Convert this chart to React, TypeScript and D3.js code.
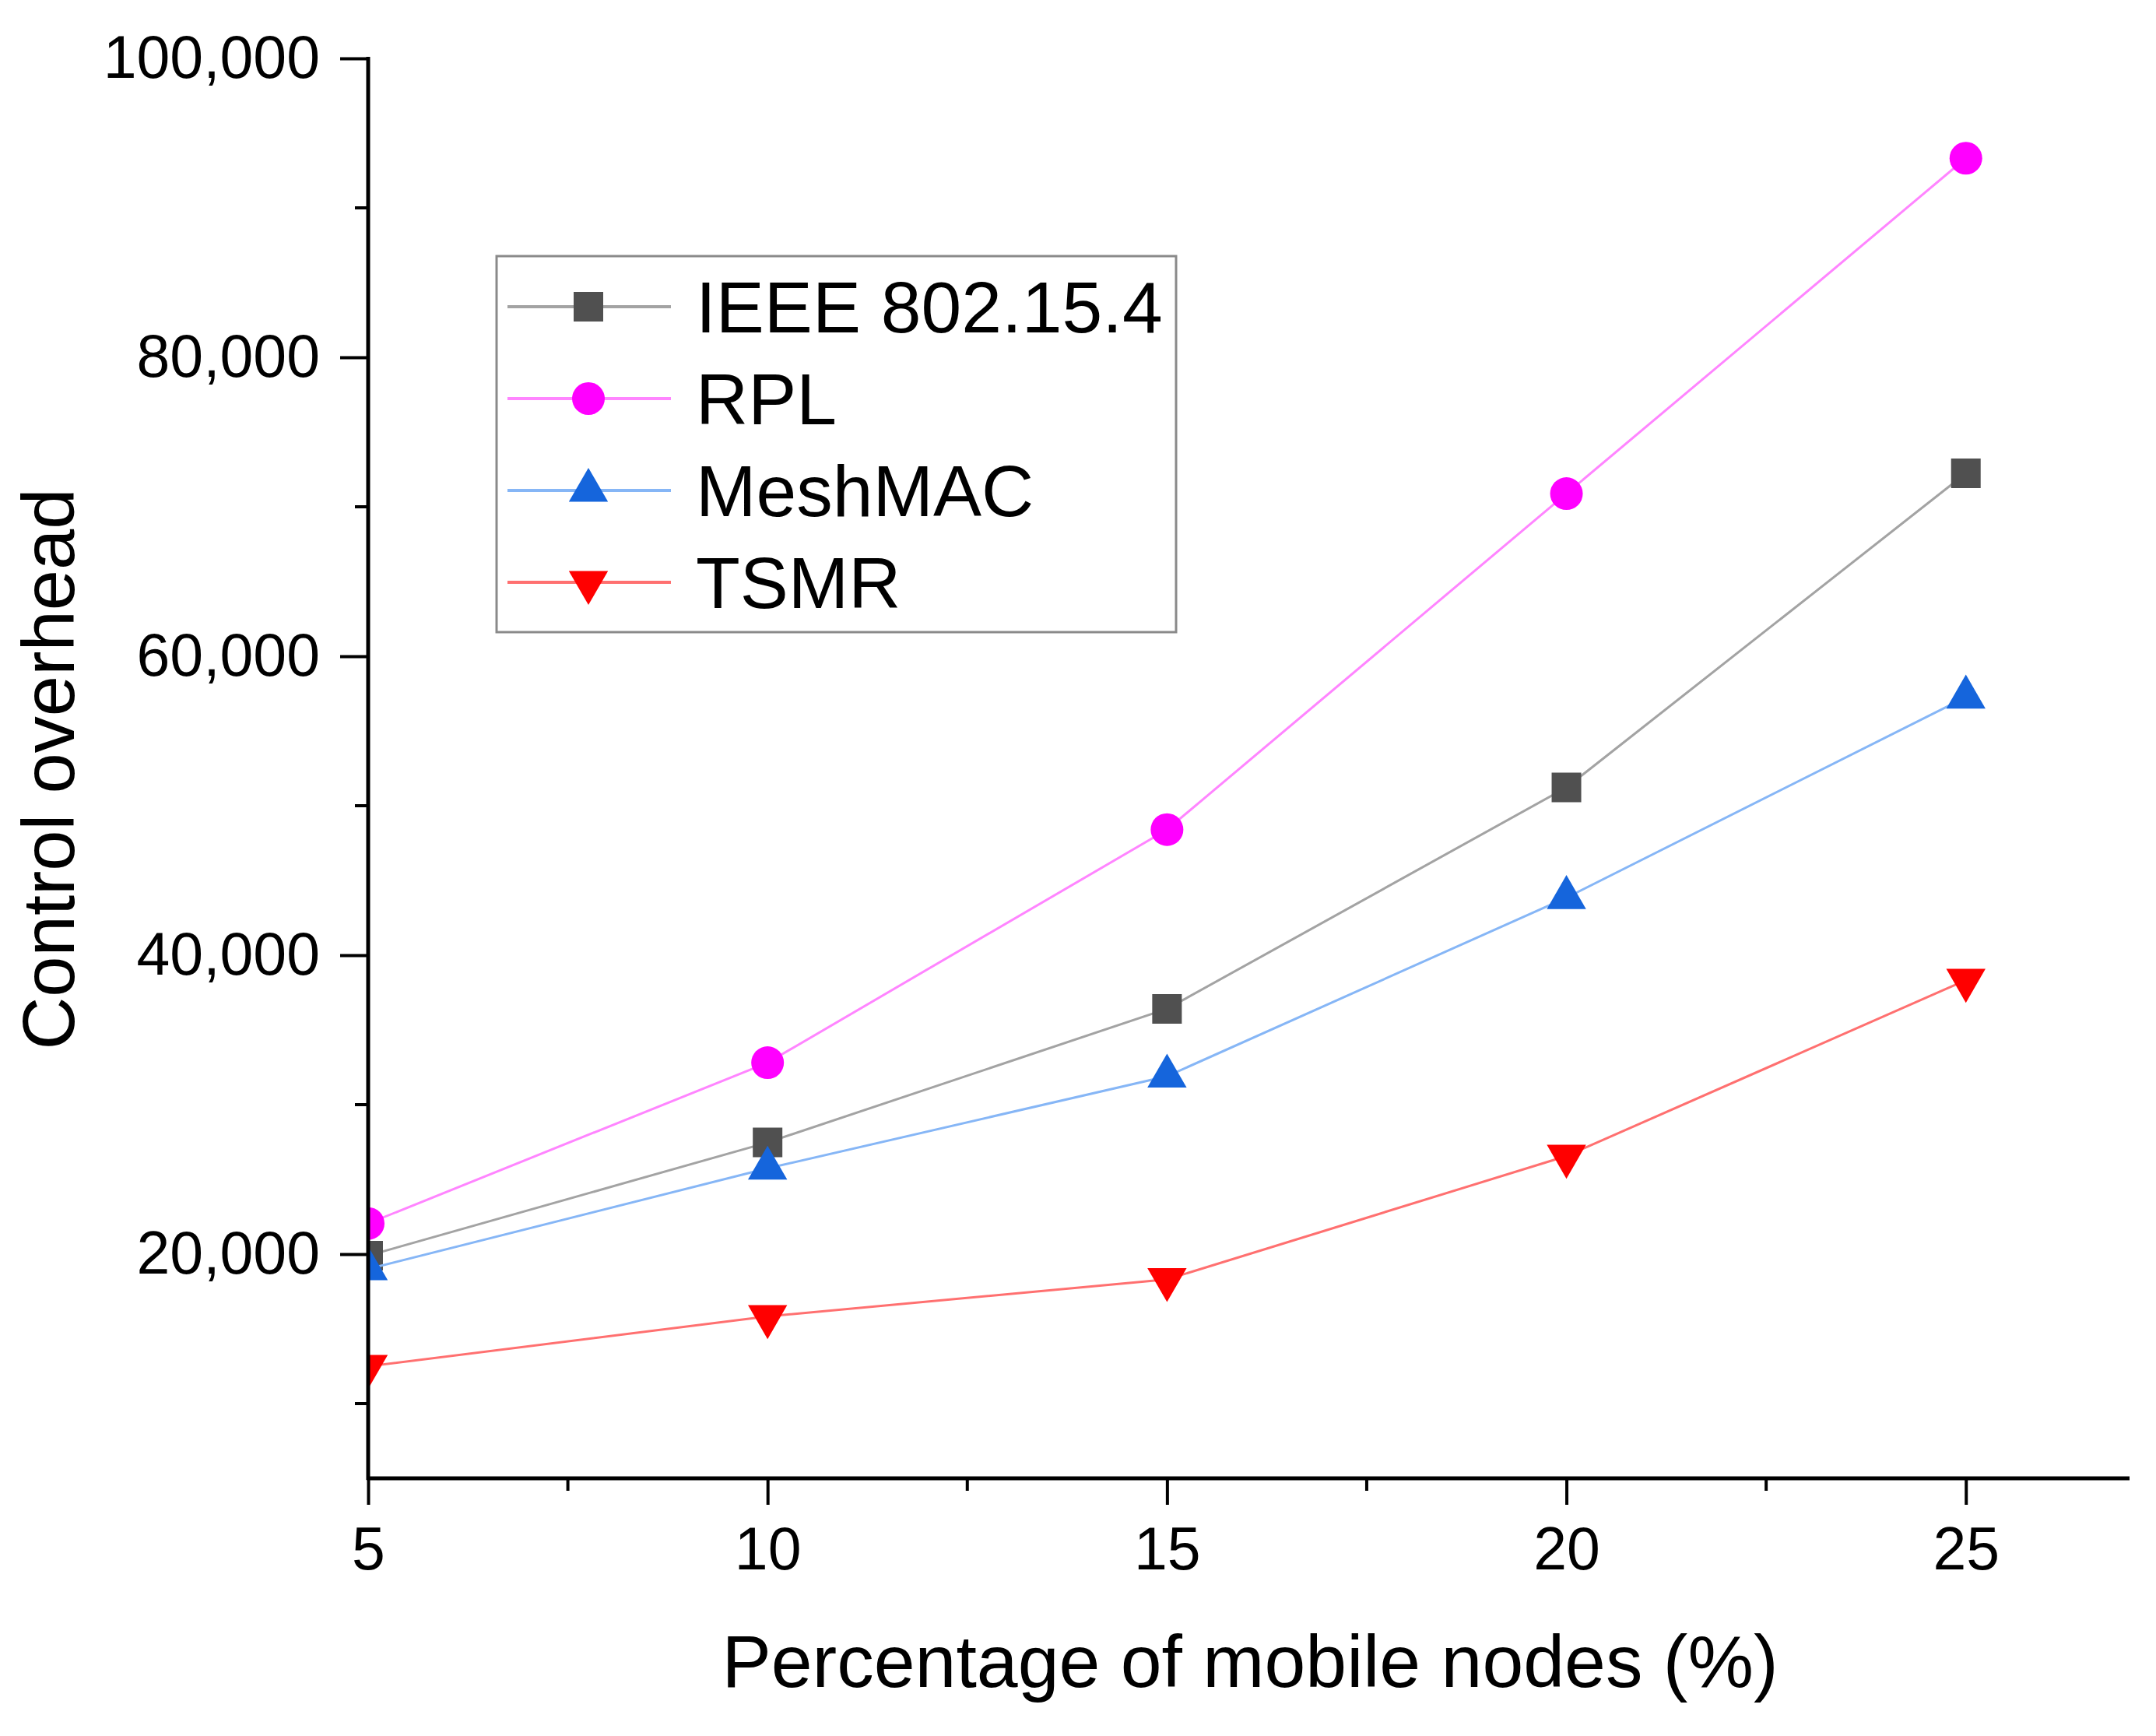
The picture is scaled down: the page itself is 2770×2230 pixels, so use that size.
import { useEffect, useRef } from 'react';
import * as d3 from 'd3';

const xValues = [5, 10, 15, 20, 25];
const ieeeValues = [19900, 27470, 36410, 51220, 72240];
const rplValues = [22050, 32810, 48400, 70880, 93320];
const meshMacValues = [19010, 25740, 31900, 43850, 57260];
const tsmrValues = [12500, 15830, 18310, 26560, 38330];

const seriesNames = ['IEEE 802.15.4', 'RPL', 'MeshMAC', 'TSMR'];
const xTicks = [5, 10, 15, 20, 25];
const xMinorTicks = [7.5, 12.5, 17.5, 22.5];
const yTicks = [20000, 40000, 60000, 80000, 100000];
const yMinorTicks = [10000, 30000, 50000, 70000, 90000];

const FONT = '"Liberation Sans", Arial, sans-serif';

type Style = { line: string; fill: string; symbol: d3.SymbolType; size: number; rotate: number };

const styles: Style[] = [
  { line: '#a3a3a3', fill: '#505050', symbol: d3.symbolSquare, size: 38 * 38, rotate: 0 },
  { line: '#ff85ff', fill: '#ff00ff', symbol: d3.symbolCircle, size: Math.PI * 21 * 21, rotate: 0 },
  { line: '#86b6f6', fill: '#1565dc', symbol: d3.symbolTriangle, size: 1100, rotate: 0 },
  { line: '#ff7070', fill: '#ff0000', symbol: d3.symbolTriangle, size: 1100, rotate: 180 },
];

export default function App() {
  const svgRef = useRef<SVGSVGElement>(null);
  const width = 2770;
  const height = 2230;

  useEffect(() => {
    document.body.style.margin = '0';
    if (!svgRef.current) return;
    const svg = d3.select(svgRef.current);
    svg.selectAll('*').remove();

    const x = d3.scaleLinear().domain([5, 27]).range([473, 2731]);
    const y = d3.scaleLinear().domain([5000, 100000]).range([1899, 75]);

    const allSeries = [ieeeValues, rplValues, meshMacValues, tsmrValues];

    svg.append('rect').attr('width', width).attr('height', height).attr('fill', '#fff');

    svg.append('defs').append('clipPath').attr('id', 'plot-clip')
      .append('rect')
      .attr('x', x(5))
      .attr('y', y(100000) - 40)
      .attr('width', x(27) - x(5))
      .attr('height', y(5000) - y(100000) + 40);

    const plot = svg.append('g').attr('clip-path', 'url(#plot-clip)');

    const line = d3.line<number>()
      .x((_, i) => x(xValues[i]))
      .y(d => y(d));

    allSeries.forEach((vals, si) => {
      const st = styles[si];
      plot.append('path')
        .datum(vals)
        .attr('fill', 'none')
        .attr('stroke', st.line)
        .attr('stroke-width', 3)
        .attr('d', line);
      const sym = d3.symbol().type(st.symbol).size(st.size);
      plot.selectAll(`.m${si}`)
        .data(vals)
        .enter()
        .append('path')
        .attr('class', `m${si}`)
        .attr('d', sym)
        .attr('fill', st.fill)
        .attr('transform', (d, i) => `translate(${x(xValues[i])},${y(d)}) rotate(${st.rotate})`);
    });

    // axes
    const axisColor = '#000';
    const xAxis = d3.axisBottom(x).tickValues(xTicks).tickSize(34).tickSizeOuter(0).tickPadding(28)
      .tickFormat(d => `${d}`);
    const gx = svg.append('g').attr('transform', `translate(0,${y(5000)})`).call(xAxis);
    gx.select('.domain').attr('stroke', axisColor).attr('stroke-width', 5).attr('d', `M${x(5) - 2},0H${x(27) + 5}`);
    gx.selectAll('.tick line').attr('stroke', axisColor).attr('stroke-width', 4);
    gx.selectAll('.tick text')
      .attr('font-family', FONT).attr('font-size', 77).attr('fill', '#000');

    gx.selectAll('.minor')
      .data(xMinorTicks)
      .enter()
      .append('line')
      .attr('class', 'minor')
      .attr('x1', d => x(d)).attr('x2', d => x(d))
      .attr('y1', 0).attr('y2', 16)
      .attr('stroke', axisColor).attr('stroke-width', 4);

    const yAxis = d3.axisLeft(y).tickValues(yTicks).tickSize(36).tickSizeOuter(0).tickPadding(26)
      .tickFormat(d => d3.format(',')(d as number));
    const gy = svg.append('g').attr('transform', `translate(${x(5)},0)`).call(yAxis);
    gy.select('.domain').attr('stroke', axisColor).attr('stroke-width', 5).attr('d', `M0,${y(100000) - 2}V${y(5000) + 2}`);
    gy.selectAll('.tick line').attr('stroke', axisColor).attr('stroke-width', 4);
    gy.selectAll('.tick text')
      .attr('font-family', FONT).attr('font-size', 77).attr('fill', '#000');

    gy.selectAll('.minor')
      .data(yMinorTicks)
      .enter()
      .append('line')
      .attr('class', 'minor')
      .attr('y1', d => y(d)).attr('y2', d => y(d))
      .attr('x1', 0).attr('x2', -17)
      .attr('stroke', axisColor).attr('stroke-width', 4);

    // axis titles
    svg.append('text')
      .attr('x', 1606)
      .attr('y', 2167)
      .attr('text-anchor', 'middle')
      .attr('font-family', FONT)
      .attr('font-size', 95)
      .attr('fill', '#000')
      .text('Percentage of mobile nodes (%)');

    svg.append('text')
      .attr('transform', 'translate(95,988) rotate(-90)')
      .attr('text-anchor', 'middle')
      .attr('font-family', FONT)
      .attr('font-size', 94)
      .attr('fill', '#000')
      .text('Control overhead');

    // legend
    const legend = svg.append('g').attr('transform', 'translate(638,329)');
    legend.append('rect')
      .attr('width', 873)
      .attr('height', 483)
      .attr('fill', '#fff')
      .attr('stroke', '#8a8a8a')
      .attr('stroke-width', 3);

    seriesNames.forEach((name, i) => {
      const st = styles[i];
      const ry = 65 + i * 118;
      legend.append('line')
        .attr('x1', 14).attr('x2', 224)
        .attr('y1', ry).attr('y2', ry)
        .attr('stroke', st.line)
        .attr('stroke-width', 4);
      legend.append('path')
        .attr('d', d3.symbol().type(st.symbol).size(st.size)())
        .attr('fill', st.fill)
        .attr('transform', `translate(118,${ry}) rotate(${st.rotate})`);
      legend.append('text')
        .attr('x', 256)
        .attr('y', ry + 33)
        .attr('font-family', FONT)
        .attr('font-size', 93)
        .attr('fill', '#000')
        .text(name);
    });
  }, []);

  return <svg ref={svgRef} width={width} height={height} style={{ display: 'block' }} />;
}
